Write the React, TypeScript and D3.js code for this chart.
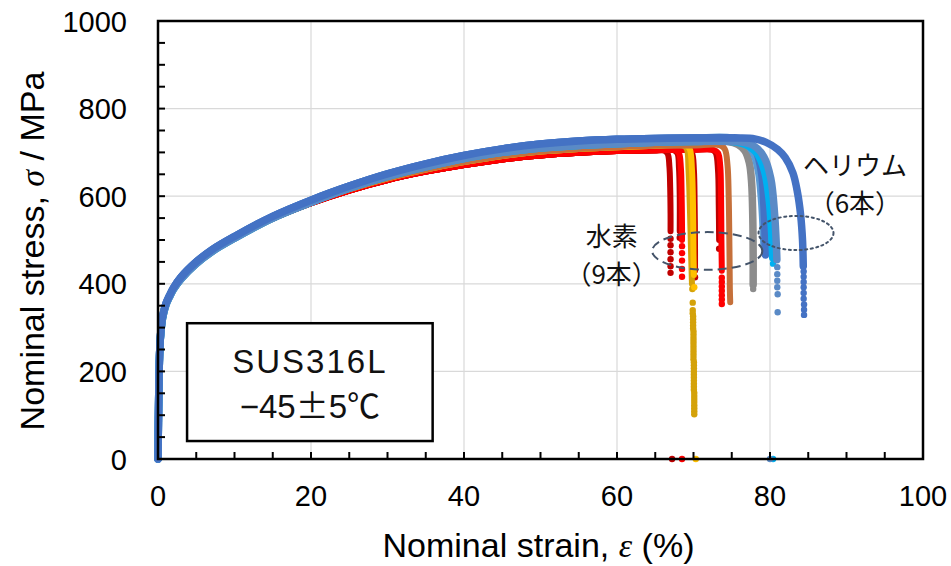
import React from "react";
import * as d3 from "d3";

const WIDTH = 951;
const HEIGHT = 566;
const margin = { top: 21, right: 28, bottom: 107, left: 158 };

// axis ticks
const strainTicks = [0, 20, 40, 60, 80, 100];
const stressTicks = [0, 200, 400, 600, 800, 1000];

// loading curves (strain %, stress MPa) shared by specimens of similar level
const hydLow = [
  [0, 0], [0.1, 150], [0.2, 235], [0.35, 285], [0.6, 322], [1, 350], [1.5, 370], [2, 387],
  [3, 412], [5, 447], [7, 474], [10, 505], [15, 549], [20, 584], [25, 613],
  [30, 637], [35, 656], [40, 671], [45, 684], [50, 693], [55, 699], [60, 703],
  [65, 705], [70, 706], [75, 706],
];
const hydHigh = [
  [0, 0], [0.1, 150], [0.2, 235], [0.35, 285], [0.6, 322], [1, 350], [1.5, 370], [2, 387],
  [3, 412], [5, 447], [7, 474], [10, 505], [15, 550], [20, 586], [25, 616],
  [30, 641], [35, 661], [40, 678], [45, 692], [50, 702], [55, 708], [60, 712],
  [65, 715], [70, 716], [75, 716],
];
const heLow = [
  [0, 0], [0.1, 150], [0.2, 235], [0.35, 285], [0.6, 322], [1, 350], [1.5, 370], [2, 387],
  [3, 411], [5, 446], [7, 473], [10, 504], [15, 550], [20, 586], [25, 618],
  [30, 645], [35, 667], [40, 686], [45, 700], [50, 710], [55, 716], [60, 720],
  [65, 723], [70, 725], [75, 725], [78, 724],
];
const heHigh = [
  [0, 0], [0.1, 150], [0.2, 235], [0.35, 287], [0.6, 325], [1, 353], [1.5, 373], [2, 390],
  [3, 415], [5, 450], [7, 477], [10, 508], [15, 554], [20, 591], [25, 623],
  [30, 651], [35, 674], [40, 693], [45, 708], [50, 719], [55, 726], [60, 730],
  [65, 732], [70, 733], [75, 733], [80, 732],
];

// hydrogen specimens (9)
const hydrogenBase = [hydLow, hydLow, hydLow, hydLow, hydLow, hydLow, hydHigh, hydHigh, hydHigh];
const hydrogenColors = ["#C00000", "#C00000", "#C00000", "#FF0000", "#C00000", "#FF0000", "#D4A20A", "#FFC000", "#C5703A"];
const hydrogenTails = [
  [[67.4, 705], [67.9, 698], [68.1, 665], [68.2, 600], [68.2, 520]],
  [[72.4, 706], [72.9, 699], [73.2, 660], [73.3, 580], [73.35, 500]],
  [[66.0, 705], [66.6, 698], [66.85, 668], [66.95, 620], [67.0, 560], [67.0, 520]],
  [[67.6, 705], [68.1, 698], [68.35, 665], [68.45, 600], [68.5, 530], [68.5, 500]],
  [[69.3, 706], [69.8, 699], [70.05, 660], [70.15, 580], [70.2, 480], [70.2, 430]],
  [[72.6, 706], [73.2, 699], [73.5, 668], [73.6, 600], [73.65, 500], [73.7, 430]],
  [[68.6, 716], [69.1, 709], [69.35, 660], [69.55, 560], [69.7, 460], [69.8, 400]],
  [[69.0, 716], [69.5, 708], [69.8, 660], [69.95, 560], [70.0, 470], [70.05, 420]],
  [[73.5, 716], [74.1, 707], [74.45, 670], [74.6, 600], [74.7, 480], [74.75, 390], [74.8, 358]],
];
const hydrogenDots = [
  [[68.2, 505]],
  [[73.35, 480]],
  [[67.0, 503], [67.0, 488], [67.0, 472], [67.0, 456], [67.0, 440], [67.0, 425], [67.2, 0]],
  [[68.5, 486], [68.5, 470], [68.5, 453], [68.5, 434], [68.5, 416], [68.5, 0]],
  [[70.2, 415]],
  [[73.7, 414], [73.7, 404], [73.7, 394], [73.7, 384], [73.7, 374], [73.7, 364], [73.7, 354]],
  [
    [69.85, 388], [69.9, 357], [69.9, 340], [69.9, 333], [69.95, 326], [69.95, 319], [69.95, 312],
    [69.95, 305], [69.95, 298], [70.0, 291], [70.0, 284], [70.0, 277], [70.0, 270], [70.0, 263],
    [70.0, 256], [70.0, 249], [70.0, 242], [70.0, 235], [70.0, 228], [70.05, 221], [70.05, 214],
    [70.05, 207], [70.05, 200], [70.05, 193], [70.05, 186], [70.05, 179], [70.05, 172], [70.05, 165],
    [70.05, 158], [70.1, 151], [70.1, 144], [70.1, 137], [70.1, 130], [70.1, 123], [70.1, 116],
    [70.1, 109], [70.1, 102],
  ],
  [[70.1, 392], [70.3, 0]],
  [],
];

// helium specimens (6)
const heliumBase = [heLow, heHigh, heHigh, heLow, heLow, heHigh];
const heliumColors = ["#8C8C8C", "#5B9BD5", "#4472C4", "#00B0F0", "#5A8AC6", "#4472C4"];
const heliumTails = [
  [[74.5, 725], [75.8, 718], [76.7, 704], [77.3, 676], [77.6, 630], [77.75, 550], [77.8, 460], [77.8, 398]],
  [[75.0, 733], [76.6, 724], [77.8, 700], [78.5, 656], [78.9, 590], [79.1, 530], [79.2, 490]],
  [[75.5, 733], [77.0, 726], [78.2, 702], [78.9, 652], [79.2, 580], [79.35, 510], [79.4, 466]],
  [[75.0, 725], [76.8, 718], [78.3, 698], [79.3, 656], [79.9, 590], [80.2, 520], [80.35, 460]],
  [[76.0, 724], [77.8, 716], [79.2, 690], [80.1, 641], [80.6, 560], [80.85, 480], [80.9, 455]],
  [[76.0, 733], [78.0, 731], [79.5, 723], [81.0, 707], [82.0, 688], [83.0, 653], [83.6, 608], [84.0, 558], [84.25, 500], [84.35, 440]],
];
const heliumDots = [
  [[77.8, 388]],
  [],
  [],
  [[80.4, 446], [80.4, 0]],
  [[80.95, 438], [80.95, 422], [80.95, 407], [80.95, 392], [81.0, 376], [81.0, 335], [80.0, 0]],
  [[84.4, 428], [84.4, 416], [84.4, 404], [84.4, 392], [84.4, 379], [84.4, 366], [84.45, 353], [84.45, 341], [84.45, 329]],
];

const xScale = d3.scaleLinear().domain([0, 100]).range([margin.left, WIDTH - margin.right]);
const yScale = d3.scaleLinear().domain([0, 1000]).range([HEIGHT - margin.bottom, margin.top]);

const lineGen = d3
  .line<number[]>()
  .x((d) => xScale(d[0]))
  .y((d) => yScale(d[1]))
  .curve(d3.curveCatmullRom.alpha(0.5));

function buildCurve(base: number[][], tail: number[][]) {
  const cut = tail[0][0];
  return base.filter((p) => p[0] < cut).concat(tail);
}

const latin = "'Liberation Sans', Arial, Helvetica, sans-serif";
const cjk = "'Noto Sans CJK JP', 'Noto Sans', sans-serif";
const greek = "'Liberation Serif', 'Times New Roman', serif";

function Specimen({ base, tail, dots, color, width }: any) {
  return (
    <g>
      <path
        d={lineGen(buildCurve(base, tail)) || ""}
        fill="none"
        stroke={color}
        strokeWidth={width}
        strokeLinecap="round"
        strokeLinejoin="round"
      />
      {dots.map((d: number[], i: number) => (
        <circle key={i} cx={xScale(d[0])} cy={yScale(d[1])} r={3.2} fill={color} />
      ))}
    </g>
  );
}

export default function App() {
  const [x0, x1] = xScale.range();
  const [y0, y1] = yScale.range();
  const xMinor = xScale.ticks(20);
  const yMinor = yScale.ticks(20);
  const boxL = xScale(3.8);
  const boxR = xScale(35.9);

  return (
    <svg
      width={WIDTH}
      height={HEIGHT}
      style={{ position: "absolute", left: 0, top: 0, background: "#fff" }}
    >
      {/* grid */}
      {strainTicks.slice(1, -1).map((t) => (
        <line key={"gx" + t} x1={xScale(t)} x2={xScale(t)} y1={y0} y2={y1} stroke="#D9D9D9" strokeWidth={1.2} />
      ))}
      {stressTicks.slice(1, -1).map((t) => (
        <line key={"gy" + t} x1={x0} x2={x1} y1={yScale(t)} y2={yScale(t)} stroke="#D9D9D9" strokeWidth={1.2} />
      ))}

      {/* curves */}
      {hydrogenTails.map((tail, i) => (
        <Specimen key={"h" + i} base={hydrogenBase[i]} tail={tail} dots={hydrogenDots[i]} color={hydrogenColors[i]} width={6} />
      ))}
      {heliumTails.map((tail, i) => (
        <Specimen key={"e" + i} base={heliumBase[i]} tail={tail} dots={heliumDots[i]} color={heliumColors[i]} width={7.5} />
      ))}

      {/* ellipses around fracture points */}
      <ellipse cx={xScale(71.8)} cy={yScale(475)} rx={xScale(7.2) - xScale(0)} ry={yScale(0) - yScale(43)}
        fill="none" stroke="#44546A" strokeWidth={2} strokeDasharray="9 5" />
      <ellipse cx={xScale(83.4)} cy={yScale(516)} rx={xScale(4.9) - xScale(0)} ry={yScale(0) - yScale(39)}
        fill="none" stroke="#44546A" strokeWidth={2} strokeDasharray="2 3.5" strokeLinecap="round" />

      {/* frame */}
      <rect x={x0} y={y1} width={x1 - x0} height={y0 - y1} fill="none" stroke="#000" strokeWidth={2.5} />

      {/* ticks (inside) */}
      {xMinor.map((t) => (
        <line key={"tx" + t} x1={xScale(t)} x2={xScale(t)} y1={y0} y2={y0 - 7} stroke="#000" strokeWidth={2} />
      ))}
      {yMinor.map((t) => (
        <line key={"ty" + t} x1={x0} x2={x0 + 7} y1={yScale(t)} y2={yScale(t)} stroke="#000" strokeWidth={2} />
      ))}

      {/* tick labels */}
      {strainTicks.map((t) => (
        <text key={"lx" + t} x={xScale(t)} y={y0 + 47} textAnchor="middle" fontFamily={latin} fontSize={29} fill="#000">
          {t}
        </text>
      ))}
      {stressTicks.map((t) => (
        <text key={"ly" + t} x={x0 - 31} y={yScale(t) + 10.5} textAnchor="end" fontFamily={latin} fontSize={29} fill="#000">
          {t}
        </text>
      ))}

      {/* axis titles */}
      <text x={(x0 + x1) / 2 - 2} y={557} textAnchor="middle" fontFamily={latin} fontSize={34} fill="#000">
        Nominal strain,{" "}
        <tspan fontFamily={greek} fontStyle="italic">ε</tspan>
        {"  (%)"}
      </text>
      <text
        transform={`translate(44, ${(y0 + y1) / 2 + 11}) rotate(-90)`}
        textAnchor="middle"
        fontFamily={latin}
        fontSize={34}
        fill="#000"
      >
        Nominal stress,{" "}
        <tspan fontFamily={greek} fontStyle="italic">σ</tspan>
        {" / MPa"}
      </text>

      {/* material box */}
      <rect x={boxL} y={yScale(310)} width={boxR - boxL} height={yScale(41) - yScale(310)}
        fill="#fff" stroke="#000" strokeWidth={2.5} />
      <text x={(boxL + boxR) / 2} y={373} textAnchor="middle" fontFamily={latin} fontSize={33} letterSpacing={2} fill="#111">
        SUS316L
      </text>
      <text x={(boxL + boxR) / 2} y={418} textAnchor="middle" fontFamily={latin} fontSize={33} fill="#111">
        −45<tspan fontFamily={cjk}>±</tspan>5<tspan fontFamily={cjk}>℃</tspan>
      </text>

      {/* group labels */}
      <text x={xScale(59.3)} y={yScale(486)} textAnchor="middle" fontFamily={cjk} fontSize={26} fill="#111">水素</text>
      <text x={xScale(59.3)} y={yScale(399)} textAnchor="middle" fontFamily={cjk} fontSize={26} fill="#111">（9本）</text>
      <text x={xScale(91.1)} y={yScale(648)} textAnchor="middle" fontFamily={cjk} fontSize={26} fill="#111">ヘリウム</text>
      <text x={xScale(91.1)} y={yScale(561)} textAnchor="middle" fontFamily={cjk} fontSize={26} fill="#111">（6本）</text>
    </svg>
  );
}
